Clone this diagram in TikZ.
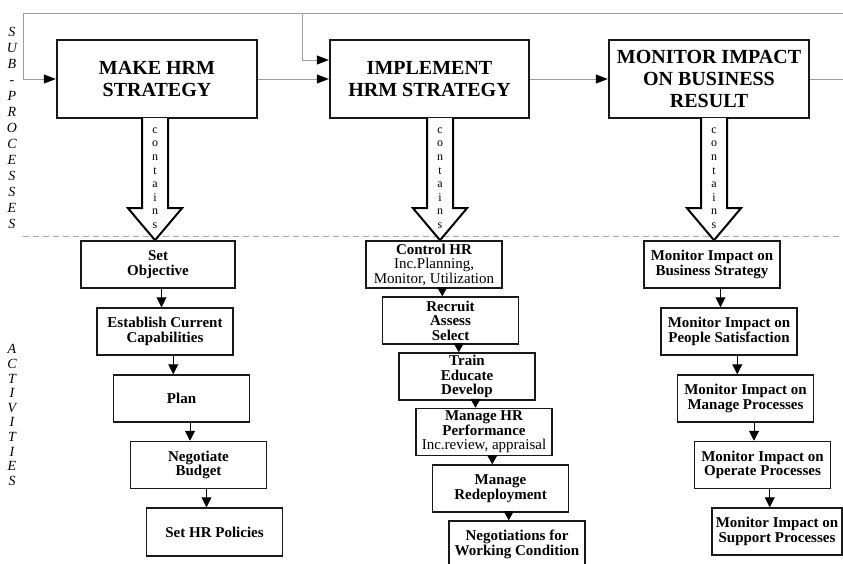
\documentclass[tikz,border=0pt]{standalone}
\usepackage{fontspec}
\setmainfont{Liberation Serif}
\usetikzlibrary{arrows.meta,calc}
\newcommand\actlink[3][10]{%
  \path ($(#2)!0.5!(#3)$) coordinate (#2#3);
  \draw[actarr,-{Triangle[length=#1pt,width=10pt]}] (#2.south -| #2#3) -- (#3.north -| #2#3);}
\newcommand\hollowarrow[2]{%
  \coordinate (#1h) at ([xshift=#2pt,yshift=1pt]#1.south);
  \draw[hollow] ($(#1h)+(-13,0)$) -- ++(0,90) -- ++(-14,0) -- ($(#1h)+(0,122)$)
     -- ($(#1h)+(27,90)$) -- ++(-14,0) -- ++(0,-90);
  \node[cont] (#1c) at ($(#1h)+(0,60)$) {c\\o\\n\\t\\a\\i\\n\\s};}
\begin{document}
\begin{tikzpicture}[x=1pt,y=-1pt,
  topbox/.style={draw=black!90, line width=2.4pt, minimum width=200pt, minimum height=78pt,
    inner sep=2pt, align=center, font=\fontsize{20}{22}\selectfont\bfseries},
  actbox/.style={draw=black!90, line width=1.5pt, minimum width=136pt, minimum height=47pt,
    inner sep=1pt, align=center, font=\fontsize{15}{14.5}\selectfont\bfseries},
  gline/.style={draw=gray!75, line width=1pt},
  gtip/.style={-{Triangle[length=12pt,width=9pt,color=black]}},
  actarr/.style={draw=black, line width=1pt},
  hollow/.style={draw=black, line width=2pt, fill=white, line join=miter},
  vlab/.style={font=\fontsize{14}{16}\selectfont\itshape, align=center, inner sep=0pt},
  cont/.style={font=\fontsize{12}{13.6}\selectfont, align=center, inner sep=0pt}
]
\clip (0,0) rectangle (843,563);
\fill[white] (0,0) rectangle (843,563);

% separator
\draw[gray!70, line width=1pt, dash pattern=on 6pt off 4pt] (23,236) -- (843,236);

% sub-process boxes
\node[topbox] (make) at (157,79) {MAKE HRM\\STRATEGY};
\node[topbox, minimum width=199pt] (impl) at (429.5,79) {IMPLEMENT\\HRM STRATEGY};
\node[topbox] (mon) at (709,79) {MONITOR IMPACT\\ON BUSINESS\\RESULT};

% feedback and flow lines
\coordinate (fbR) at (843,13);
\coordinate (fbL) at (23,13);
\coordinate (fbB) at (302,13);
\coordinate (outR) at (843,79);
\draw[gline,gtip] (fbR) -- (fbL) |- (make.west);
\draw[gline,gtip] (fbB) |- ([yshift=19pt]impl.west);
\draw[gline,gtip] (make.east) -- (impl.west);
\draw[gline,gtip] (impl.east) -- (mon.west);
\draw[gline] (mon.east) -- (outR);

% contains arrows
\hollowarrow{make}{-2}
\hollowarrow{impl}{10.5}
\hollowarrow{mon}{5}

% side labels
\node[vlab] (sublab) at (12,128) {S\\U\\B\\-\\P\\R\\O\\C\\E\\S\\S\\E\\S};
\node[vlab, font=\fontsize{14}{14.6}\selectfont\itshape] (actlab) at (12,415) {A\\C\\T\\I\\V\\I\\T\\I\\E\\S};

% column 1
\node[actbox, minimum width=154pt] (a1) at (158,264.5) {Set\\Objective};
\node[actbox] (a2) at (165,331.5) {Establish Current\\Capabilities};
\node[actbox] (a3) at (181.5,398.5) {Plan};
\node[actbox] (a4) at (198.5,465) {Negotiate\\Budget};
\node[actbox, minimum height=48pt] (a5) at (214.5,532) {Set HR Policies};
\actlink{a1}{a2}
\actlink{a2}{a3}
\actlink{a3}{a4}
\actlink{a4}{a5}

% column 2
\node[actbox] (b1) at (434,264.5) {Control HR\\\mdseries Inc.Planning,\\\mdseries Monitor, Utilization};
\node[actbox] (b2) at (450.5,320.5) {Recruit\\Assess\\Select};
\node[actbox] (b3) at (467,376.5) {Train\\Educate\\Develop};
\node[actbox] (b4) at (484,432) {Manage HR\\Performance\\\mdseries Inc.review, appraisal};
\node[actbox] (b5) at (500.5,488.5) {Manage\\Redeployment};
\node[actbox] (b6) at (517,544.5) {Negotiations for\\Working Condition};
\actlink[9]{b1}{b2}
\actlink[9]{b2}{b3}
\actlink[9]{b3}{b4}
\actlink[9]{b4}{b5}
\actlink[9]{b5}{b6}

% column 3
\node[actbox] (c1) at (712,264.5) {Monitor Impact on\\Business Strategy};
\node[actbox] (c2) at (729,331.5) {Monitor Impact on\\People Satisfaction};
\node[actbox] (c3) at (745.5,398.5) {Monitor Impact on\\Manage Processes};
\node[actbox] (c4) at (762.5,465) {Monitor Impact on\\Operate Processes};
\node[actbox, minimum width=130pt] (c5) at (777,531.5) {Monitor Impact on\\Support Processes};
\actlink{c1}{c2}
\actlink{c2}{c3}
\actlink{c3}{c4}
\actlink{c4}{c5}
\end{tikzpicture}
\end{document}
